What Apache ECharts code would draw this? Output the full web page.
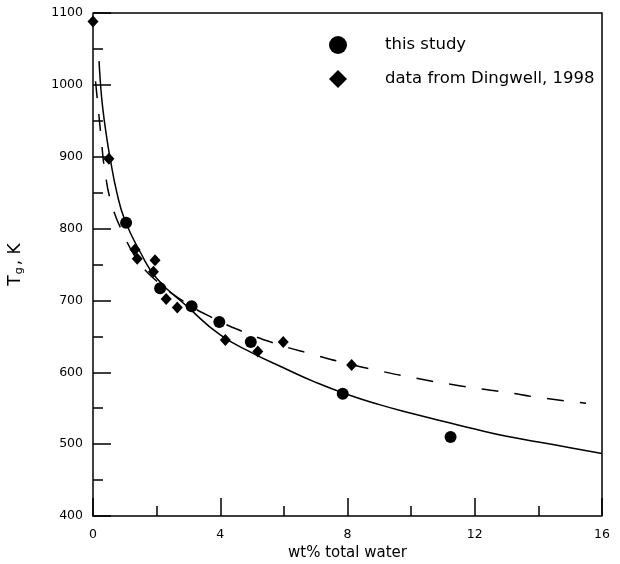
<!DOCTYPE html>
<html>
<head>
<meta charset="utf-8">
<script src="https://cdn.jsdelivr.net/npm/echarts@6/dist/echarts.min.js"></script>
<style>
  html, body { margin: 0; padding: 0; background: #fff; }
  #chart { width: 620px; height: 564px; }
</style>
</head>
<body>
<div id="chart"></div>
<script>
// measured points, [wt% water, Tg]
const thisStudy = [
  [1.04, 808], [2.11, 717], [3.10, 692], [3.97, 670],
  [4.96, 642], [7.85, 570], [11.24, 510],
];
const dingwell = [
  [0.0, 1088], [0.5, 897], [1.32, 771], [1.39, 758], [1.90, 740],
  [1.95, 756], [2.30, 702], [2.65, 690], [4.16, 645], [5.18, 629],
  [5.98, 642], [8.13, 610],
];
// fitted curves
const fitThisStudy = [
  [0.19, 1033], [0.23, 1005], [0.3, 970], [0.42, 930], [0.53, 900],
  [0.75, 850], [1.0, 812], [1.5, 766], [2.0, 731], [3.0, 690],
  [4.0, 652], [5.0, 627], [6.0, 606], [7.0, 586], [8.0, 569],
  [9.0, 555], [10.0, 543], [11.0, 532], [12.0, 521], [13.0, 511],
  [14.0, 503], [15.0, 495], [16.0, 487],
];
const fitDingwell = [
  [0.08, 1005], [0.26, 925], [0.37, 881], [0.58, 835], [0.95, 793],
  [1.42, 755], [2.0, 727], [2.8, 700], [3.7, 677], [4.8, 655],
  [5.8, 639], [6.9, 625], [8.0, 612], [9.0, 602], [10.0, 593],
  [11.0, 585], [12.0, 578], [13.0, 572], [14.0, 565], [15.5, 557],
];
const xTicks = [0, 4, 8, 12, 16];
const yTicks = [400, 500, 600, 700, 800, 900, 1000, 1100];

const font = "'DejaVu Sans', sans-serif";
const chart = echarts.init(document.getElementById("chart"));

chart.setOption({
  animation: false,
  backgroundColor: "#fff",
  textStyle: { fontFamily: font, color: "#000" },
  grid: { left: 93, right: 18, top: 13, bottom: 48, outerBoundsMode: "none", containLabel: false },
  legend: {
    orient: "vertical",
    left: 324,
    top: 31,
    itemWidth: 18,
    itemHeight: 18,
    itemGap: 16,
    textStyle: { fontFamily: font, fontSize: 16.5, color: "#000", padding: [0, 0, 0, 33] },
    data: [
      { name: "this study", icon: "circle" },
      { name: "data from Dingwell, 1998", icon: "diamond" },
    ],
  },
  xAxis: {
    type: "value",
    min: xTicks[0],
    max: xTicks[xTicks.length - 1],
    interval: 4,
    name: "wt% total water",
    nameLocation: "middle",
    nameGap: 30,
    nameMoveOverlap: false,
    nameTextStyle: { fontFamily: font, fontSize: 15, color: "#000" },
    axisLine: { onZero: false, lineStyle: { color: "#000", width: 1.5 } },
    axisTick: { inside: true, length: 18, lineStyle: { color: "#000", width: 1.5 } },
    minorTick: { show: true, splitNumber: 2, length: 10, lineStyle: { color: "#000", width: 1.5 } },
    axisLabel: { margin: 12, fontSize: 12.5, color: "#000", fontFamily: font },
    splitLine: { show: false },
  },
  yAxis: {
    type: "value",
    min: yTicks[0],
    max: yTicks[yTicks.length - 1],
    interval: 100,
    name: "{a|T}{b|g}{a|, K}",
    nameLocation: "middle",
    nameGap: 67,
    nameMoveOverlap: false,
    nameRotate: 90,
    nameTextStyle: {
      rich: {
        a: { fontFamily: font, fontSize: 17, color: "#000", lineHeight: 20 },
        b: { fontFamily: font, fontSize: 11, color: "#000", padding: [7, 2, 0, 1], lineHeight: 20 },
      },
    },
    axisLine: { onZero: false, lineStyle: { color: "#000", width: 1.5 } },
    axisTick: { inside: true, length: 18, lineStyle: { color: "#000", width: 1.5 } },
    minorTick: { show: true, splitNumber: 2, length: 10, lineStyle: { color: "#000", width: 1.5 } },
    axisLabel: {
      margin: 10, fontSize: 12.5, color: "#000", fontFamily: font,
      formatter: (v) => String(v),
    },
    splitLine: { show: false },
  },
  graphic: [
    {
      type: "polyline",
      silent: true,
      shape: { points: [[93, 13], [602, 13], [602, 516]] },
      style: { stroke: "#000", lineWidth: 1.5, fill: null },
    },
  ],
  series: [
    {
      name: "fit this study",
      type: "line",
      data: fitThisStudy,
      smooth: 0.5,
      showSymbol: false,
      lineStyle: { color: "#000", width: 1.5 },
      z: 2,
    },
    {
      name: "fit Dingwell",
      type: "line",
      data: fitDingwell,
      smooth: 0.5,
      showSymbol: false,
      lineStyle: { color: "#000", width: 1.5, type: [17, 16] },
      z: 2,
    },
    {
      name: "this study",
      type: "scatter",
      data: thisStudy,
      symbol: "circle",
      symbolSize: 12,
      itemStyle: { color: "#000", opacity: 1 },
      z: 3,
    },
    {
      name: "data from Dingwell, 1998",
      type: "scatter",
      data: dingwell,
      symbol: "diamond",
      symbolSize: [11, 12],
      itemStyle: { color: "#000", opacity: 1 },
      z: 3,
    },
  ],
});
</script>
</body>
</html>
